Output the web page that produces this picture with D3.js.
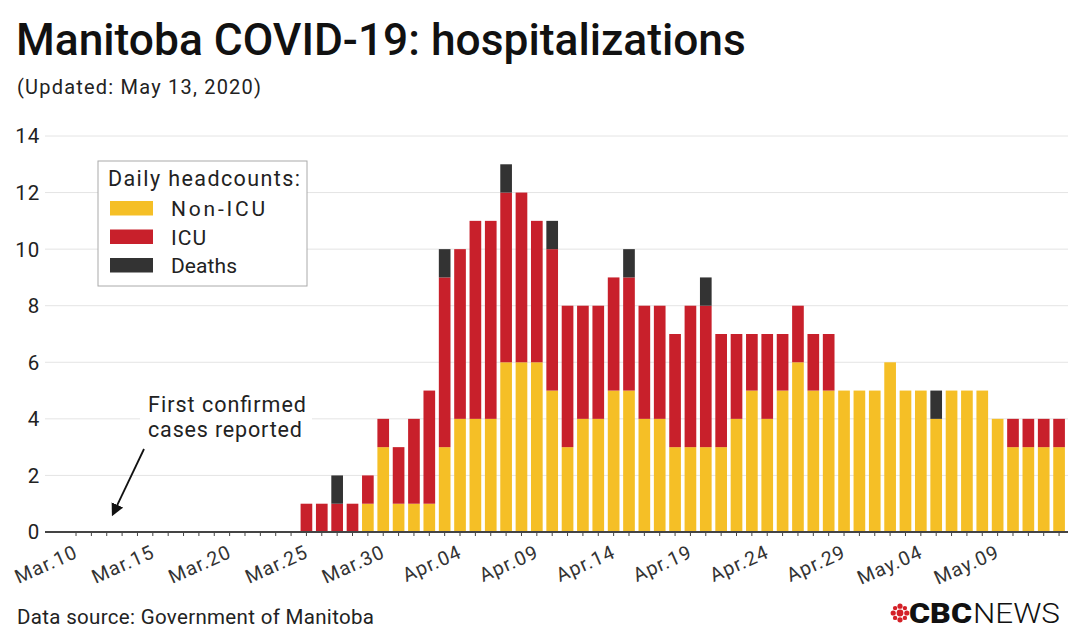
<!DOCTYPE html>
<html>
<head>
<meta charset="utf-8">
<script src="https://cdn.jsdelivr.net/npm/d3@7"></script>
<style>
  html, body { margin: 0; padding: 0; background: #fff; }
  svg { display: block; font-family: Roboto, "Open Sans", sans-serif; }
</style>
</head>
<body>
<svg id="chart" width="1080" height="639"></svg>
<script>
// ---------- DATA ----------
const firstDay = "2020-03-10";
const lastDay = "2020-05-13";
const seriesKeys = ["nonICU", "icu", "deaths"];
const seriesLabels = ["Non-ICU", "ICU", "Deaths"];
const seriesColors = ["#F5BF26", "#C8202B", "#333333"];
// one value per day, Mar.10 .. May.13
const nonICU = [
  0,0,0,0,0,0,0,0,0,0,0,0,0,0,0,           // Mar.10-24
  0,0,0,0,1,3,1,                           // Mar.25-31
  1,1,3,4,4,4,6,6,6,5, 3,4,4,5,5,4,4,3,3,3, 3,4,5,4,5,6,5,5,5,5, // Apr
  5,6,5,5,4,5,5,5,4,3,3,3,3                // May.01-13
];
const icu = [
  0,0,0,0,0,0,0,0,0,0,0,0,0,0,0,
  1,1,1,1,1,1,2,
  3,4,6,6,7,7,6,6,5,5, 5,4,4,4,4,4,4,4,5,5, 4,3,2,3,2,2,2,2,0,0,
  0,0,0,0,0,0,0,0,0,1,1,1,1
];
const deaths = [
  0,0,0,0,0,0,0,0,0,0,0,0,0,0,0,
  0,0,1,0,0,0,0,
  0,0,1,0,0,0,1,0,0,1, 0,0,0,0,1,0,0,0,0,1, 0,0,0,0,0,0,0,0,0,0,
  0,0,0,0,1,0,0,0,0,0,0,0,0
];
const yTicks = [0, 2, 4, 6, 8, 10, 12, 14];
const titleText = "Manitoba COVID-19: hospitalizations";
const subtitleText = "(Updated: May 13, 2020)";
const legendTitle = "Daily headcounts:";
const noteLines = ["First confirmed", "cases reported"];
const sourceText = "Data source: Government of Manitoba";

// ---------- SETUP ----------
const parse = d3.timeParse("%Y-%m-%d");
const days = d3.timeDay.range(parse(firstDay), d3.timeDay.offset(parse(lastDay), 1));
const fmt = d3.timeFormat("%b.%d");
const rows = days.map((d, i) => ({ date: d, key: fmt(d), nonICU: nonICU[i], icu: icu[i], deaths: deaths[i] }));

const svg = d3.select("#chart");
const plotLeft = 45, plotRight = 1068;

// widen text spacing to match the reference's DIN-like face
function fit(sel, width) {
  sel.attr("textLength", width).attr("lengthAdjust", "spacing");
  return sel;
}

const x = d3.scaleBand().domain(rows.map(r => r.key)).range([66.5, 1068.6]).paddingInner(0.24).paddingOuter(0.24);
const y = d3.scaleLinear().domain([0, 14]).range([532, 136]);

// Title and subtitle
const title = svg.append("text").attr("x", 16).attr("y", 55)
  .attr("font-size", 42).attr("font-weight", 500).attr("fill", "#111").text(titleText);
const tw = title.node().getComputedTextLength();
title.attr("font-size", 42 * 730 / tw);
fit(svg.append("text").attr("x", 17).attr("y", 94).attr("font-size", 20).attr("fill", "#222").text(subtitleText), 244);

// Gridlines
svg.append("g").selectAll("line").data(yTicks.filter(t => t > 0)).join("line")
  .attr("x1", plotLeft).attr("x2", plotRight)
  .attr("y1", d => y(d)).attr("y2", d => y(d))
  .attr("stroke", "#e4e4e4").attr("stroke-width", 1);

// Y labels
svg.append("g").selectAll("text").data(yTicks).join("text")
  .attr("x", 40).attr("y", d => y(d)).attr("dy", "0.36em")
  .attr("text-anchor", "end").attr("font-size", 20.5).attr("letter-spacing", 0.8).attr("fill", "#222").text(d => d);

// Bars
const stack = d3.stack().keys(seriesKeys)(rows);
svg.append("g").selectAll("g").data(stack).join("g")
  .attr("fill", (d, i) => seriesColors[i])
  .selectAll("rect").data(d => d.filter(s => s[1] - s[0] > 0)).join("rect")
  .attr("x", d => x(d.data.key)).attr("width", x.bandwidth())
  .attr("y", d => y(d[1])).attr("height", d => y(d[0]) - y(d[1]));

// X axis
const xAxis = d3.axisBottom(x).tickSize(4).tickFormat("");
const gx = svg.append("g").attr("transform", "translate(0,532)").call(xAxis);
gx.select(".domain").remove();
gx.selectAll(".tick line").attr("stroke", "#444").attr("stroke-width", 1);
svg.append("line").attr("x1", plotLeft).attr("x2", plotRight).attr("y1", 532).attr("y2", 532)
  .attr("stroke", "#444").attr("stroke-width", 2);

// X labels every 5 days
svg.append("g").selectAll("text").data(rows.filter((r, i) => i % 5 === 0)).join("text")
  .attr("transform", d => `translate(${x(d.key) + x.bandwidth() / 2 + 3},557) rotate(-24)`)
  .attr("text-anchor", "end").attr("font-size", 19.5).attr("letter-spacing", 1).attr("fill", "#333").text(d => d.key);

// Legend
const lg = svg.append("g");
lg.append("rect").attr("x", 98).attr("y", 161).attr("width", 209).attr("height", 125)
  .attr("fill", "#fff").attr("stroke", "#aaa").attr("stroke-width", 1);
fit(lg.append("text").attr("x", 108).attr("y", 186).attr("font-size", 21.5).attr("fill", "#222").text(legendTitle), 192);
const itemWidths = [94, 35, 66];
seriesLabels.forEach((lab, i) => {
  const yy = 201 + i * 28.5;
  lg.append("rect").attr("x", 110).attr("y", yy).attr("width", 43).attr("height", 14.5).attr("fill", seriesColors[i]);
  fit(lg.append("text").attr("x", 171).attr("y", yy + 15).attr("font-size", 21).attr("fill", "#222").text(lab), itemWidths[i]);
});

// Annotation
const ann = svg.append("g");
ann.append("rect").attr("x", 140).attr("y", 392).attr("width", 172).attr("height", 50).attr("fill", "#fff");
const noteWidths = [158, 154];
noteLines.forEach((t, i) => {
  fit(ann.append("text").attr("x", 148).attr("y", 412 + i * 25).attr("font-size", 21.5).attr("fill", "#222").text(t), noteWidths[i]);
});
const defs = svg.append("defs");
defs.append("marker").attr("id", "ah").attr("viewBox", "0 0 10 10").attr("refX", 8).attr("refY", 5)
  .attr("markerWidth", 7).attr("markerHeight", 7).attr("orient", "auto")
  .append("path").attr("d", "M0,0 L10,5 L0,10 Z").attr("fill", "#111");
ann.append("line").attr("x1", 144).attr("y1", 449).attr("x2", 113).attr("y2", 514)
  .attr("stroke", "#111").attr("stroke-width", 1.8).attr("marker-end", "url(#ah)");

// Source
fit(svg.append("text").attr("x", 17).attr("y", 624).attr("font-size", 20.5).attr("fill", "#222").text(sourceText), 357);

// CBC News logo
const logo = svg.append("g");
const gx0 = 900, gy0 = 613;
const gem = [[0,0,3.4],[0,-6.8,2.6],[0,6.8,2.6],[-6.8,0,2.6],[6.8,0,2.6],[-4.9,-4.9,2.2],[4.9,-4.9,2.2],[-4.9,4.9,2.2],[4.9,4.9,2.2]];
logo.selectAll("circle").data(gem).join("circle")
  .attr("cx", d => gx0 + d[0]).attr("cy", d => gy0 + d[1]).attr("r", d => d[2]).attr("fill", "#D42027");
logo.append("text").attr("x", 909).attr("y", 623).attr("font-size", 28).attr("font-weight", 900)
  .attr("fill", "#111").attr("textLength", 63).attr("lengthAdjust", "spacingAndGlyphs").text("CBC");
logo.append("text").attr("x", 973).attr("y", 623).attr("font-size", 28).attr("font-weight", 300)
  .attr("fill", "#111").attr("textLength", 87).attr("lengthAdjust", "spacingAndGlyphs").text("NEWS");
</script>
</body>
</html>
